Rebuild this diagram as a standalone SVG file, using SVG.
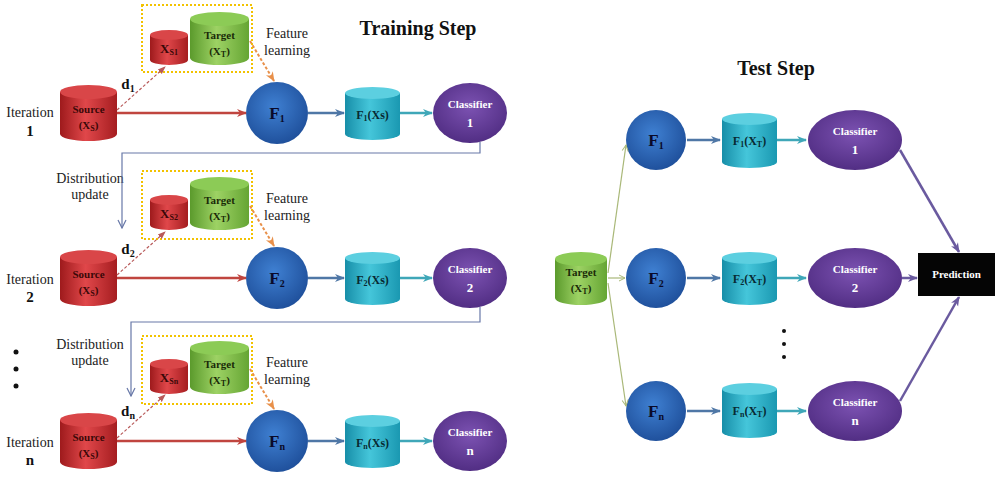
<svg xmlns="http://www.w3.org/2000/svg" width="1000" height="477" viewBox="0 0 1000 477">
<defs>
<linearGradient id="gRed" x1="0" y1="0" x2="1" y2="0"><stop offset="0" stop-color="#9e1a1c"/><stop offset="0.45" stop-color="#e0474a"/><stop offset="1" stop-color="#a51d20"/></linearGradient>
<linearGradient id="gGreen" x1="0" y1="0" x2="1" y2="0"><stop offset="0" stop-color="#5b9a2c"/><stop offset="0.45" stop-color="#9dd264"/><stop offset="1" stop-color="#65a533"/></linearGradient>
<linearGradient id="gTeal" x1="0" y1="0" x2="1" y2="0"><stop offset="0" stop-color="#178ea8"/><stop offset="0.45" stop-color="#45c6da"/><stop offset="1" stop-color="#1a98b1"/></linearGradient>
<radialGradient id="gBlue" cx="0.45" cy="0.4" r="0.65"><stop offset="0" stop-color="#3f80d2"/><stop offset="1" stop-color="#1d4d98"/></radialGradient>
<radialGradient id="gPurple" cx="0.5" cy="0.4" r="0.65"><stop offset="0" stop-color="#7c52b2"/><stop offset="1" stop-color="#4e2b80"/></radialGradient>
<marker id="aRed" markerWidth="10" markerHeight="10" refX="9" refY="5" orient="auto" markerUnits="userSpaceOnUse"><path d="M0,1 L10,5 L0,9 L3,5 Z" fill="#c0453f"/></marker>
<marker id="aBlue" markerWidth="10" markerHeight="10" refX="9" refY="5" orient="auto" markerUnits="userSpaceOnUse"><path d="M0,1 L10,5 L0,9 L3,5 Z" fill="#4f77a6"/></marker>
<marker id="aTeal" markerWidth="10" markerHeight="10" refX="9" refY="5" orient="auto" markerUnits="userSpaceOnUse"><path d="M0,1 L10,5 L0,9 L3,5 Z" fill="#3fa7b8"/></marker>
<marker id="aPurple" markerWidth="10" markerHeight="10" refX="9" refY="5" orient="auto" markerUnits="userSpaceOnUse"><path d="M0,1 L10,5 L0,9 L3,5 Z" fill="#6a5a9f"/></marker>
<marker id="aOrange" markerWidth="10" markerHeight="10" refX="9" refY="5" orient="auto" markerUnits="userSpaceOnUse"><path d="M0,1 L10,5 L0,9 L3,5 Z" fill="#e8904a"/></marker>
<marker id="aD" markerWidth="8" markerHeight="8" refX="7" refY="4" orient="auto" markerUnits="userSpaceOnUse"><path d="M0,1 L8,4 L0,7 Z" fill="#b85a5a"/></marker>
<marker id="aOpen" markerWidth="10" markerHeight="10" refX="9" refY="5" orient="auto" markerUnits="userSpaceOnUse"><path d="M1,1 L9,5 L1,9" fill="none" stroke="#6878a8" stroke-width="1.2"/></marker>
<marker id="aOlive" markerWidth="8" markerHeight="8" refX="7" refY="4" orient="auto" markerUnits="userSpaceOnUse"><path d="M1,1 L7,4 L1,7" fill="none" stroke="#a9b878" stroke-width="1"/></marker>
</defs>
<style>
text{font-family:"Liberation Serif","Times New Roman",serif;}
.lbl{font-size:14px;fill:#222;text-anchor:middle;}
.title{font-size:20px;font-weight:bold;fill:#111;text-anchor:middle;}
.in{font-size:11px;font-weight:bold;text-anchor:middle;}
.xs{font-size:13px;font-weight:bold;text-anchor:middle;}
.src{fill:#3a0808;}
.tgt{fill:#1a2a08;}
.cyl{font-size:12px;font-weight:bold;fill:#082a32;text-anchor:middle;}
.fl{font-size:17px;font-weight:bold;fill:#0a0a28;text-anchor:middle;}
.cls{font-size:11px;font-weight:bold;fill:#fff;text-anchor:middle;}
.num{font-size:13px;font-weight:bold;fill:#fff;text-anchor:middle;}
.bold{font-size:15px;font-weight:bold;fill:#111;text-anchor:middle;}
.sub{font-size:8px;}
.dsub{font-size:10px;}
.fsub{font-size:10px;}
.box{fill:none;stroke:#f2c200;stroke-width:2;stroke-dasharray:2 2;}
.red{stroke:#c0453f;stroke-width:2.5;fill:none;}
.blu{stroke:#4f77a6;stroke-width:2.5;fill:none;}
.tea{stroke:#3fa7b8;stroke-width:2.5;fill:none;}
.pur{stroke:#6a5a9f;stroke-width:2.5;fill:none;}
.fb{stroke:#6878a8;stroke-width:1.2;fill:none;}
.orn{stroke:#e8904a;stroke-width:2;stroke-dasharray:3 2;fill:none;}
.dd{stroke:#b85a5a;stroke-width:1.2;stroke-dasharray:3 2;fill:none;}
.olv{stroke:#a9b878;stroke-width:1.2;fill:none;}
</style>

<text class="title" x="418" y="35">Training Step</text>
<text class="title" x="776" y="75">Test Step</text>

<!-- ===== Row 1 ===== -->
<g id="iter1"><text class="lbl" x="30" y="117">Iteration</text><text class="bold" x="30" y="136">1</text></g>
<g id="source1">
<path d="M60,92 L60,134 A28.5,7 0 0 0 117,134 L117,92 Z" fill="url(#gRed)"/>
<ellipse cx="88.5" cy="92" rx="28.5" ry="7" fill="#d94648"/>
<text class="in src" x="88.5" y="113">Source</text><text class="in src" x="88.5" y="129">(X<tspan class="sub" dy="2">S</tspan><tspan dy="-2">)</tspan></text>
</g>
<g id="box1">
<rect class="box" x="142" y="5" width="110" height="67"/>
<path d="M150,35 L150,60 A19,5 0 0 0 188,60 L188,35 Z" fill="url(#gRed)"/>
<ellipse cx="169" cy="35" rx="19" ry="5" fill="#d94648"/>
<text class="xs src" x="169" y="53">X<tspan class="sub" dy="2">S1</tspan></text>
<path d="M190,19 L190,58 A29.5,7 0 0 0 249,58 L249,19 Z" fill="url(#gGreen)"/>
<ellipse cx="219.5" cy="19" rx="29.5" ry="7" fill="#8ccb56"/>
<text class="in tgt" x="219.5" y="39">Target</text><text class="in tgt" x="219.5" y="55">(X<tspan class="sub" dy="2">T</tspan><tspan dy="-2">)</tspan></text>
</g>
<g id="fl1"><text class="lbl" x="287" y="38">Feature</text><text class="lbl" x="287" y="55">learning</text></g>
<g id="d1"><text class="bold" x="128" y="89">d<tspan class="dsub" dy="3">1</tspan></text></g>
<g id="F1"><circle cx="277" cy="113" r="31" fill="url(#gBlue)"/><text class="fl" x="277" y="119">F<tspan class="fsub" dy="3">1</tspan></text></g>
<g id="F1Xs">
<path d="M345,93 L345,134 A27.5,6 0 0 0 400,134 L400,93 Z" fill="url(#gTeal)"/>
<ellipse cx="372.5" cy="93" rx="27.5" ry="6" fill="#5ccfe0"/>
<text class="cyl" x="372.5" y="119">F<tspan class="sub" dy="2">1</tspan><tspan dy="-2">(Xs)</tspan></text>
</g>
<g id="cls1"><ellipse cx="470" cy="113" rx="37" ry="30" fill="url(#gPurple)"/><text class="cls" x="470" y="108">Classifier</text><text class="num" x="470" y="127">1</text></g>

<!-- ===== Row 2 ===== -->
<g id="iter2"><text class="lbl" x="30" y="284">Iteration</text><text class="bold" x="30" y="302">2</text></g>
<g id="dist2"><text class="lbl" x="90" y="183">Distribution</text><text class="lbl" x="90" y="199">update</text></g>
<g id="source2">
<path d="M60,257 L60,299 A28.5,7 0 0 0 117,299 L117,257 Z" fill="url(#gRed)"/>
<ellipse cx="88.5" cy="257" rx="28.5" ry="7" fill="#d94648"/>
<text class="in src" x="88.5" y="278">Source</text><text class="in src" x="88.5" y="294">(X<tspan class="sub" dy="2">S</tspan><tspan dy="-2">)</tspan></text>
</g>
<g id="box2">
<rect class="box" x="142" y="171" width="110" height="68"/>
<path d="M150,200 L150,225 A19,5 0 0 0 188,225 L188,200 Z" fill="url(#gRed)"/>
<ellipse cx="169" cy="200" rx="19" ry="5" fill="#d94648"/>
<text class="xs src" x="169" y="218">X<tspan class="sub" dy="2">S2</tspan></text>
<path d="M190,184 L190,223 A29.5,7 0 0 0 249,223 L249,184 Z" fill="url(#gGreen)"/>
<ellipse cx="219.5" cy="184" rx="29.5" ry="7" fill="#8ccb56"/>
<text class="in tgt" x="219.5" y="204">Target</text><text class="in tgt" x="219.5" y="220">(X<tspan class="sub" dy="2">T</tspan><tspan dy="-2">)</tspan></text>
</g>
<g id="fl2"><text class="lbl" x="287" y="203">Feature</text><text class="lbl" x="287" y="220">learning</text></g>
<g id="d2"><text class="bold" x="128" y="254">d<tspan class="dsub" dy="3">2</tspan></text></g>
<g id="F2"><circle cx="277" cy="278" r="31" fill="url(#gBlue)"/><text class="fl" x="277" y="284">F<tspan class="fsub" dy="3">2</tspan></text></g>
<g id="F2Xs">
<path d="M345,258 L345,299 A27.5,6 0 0 0 400,299 L400,258 Z" fill="url(#gTeal)"/>
<ellipse cx="372.5" cy="258" rx="27.5" ry="6" fill="#5ccfe0"/>
<text class="cyl" x="372.5" y="284">F<tspan class="sub" dy="2">2</tspan><tspan dy="-2">(Xs)</tspan></text>
</g>
<g id="cls2"><ellipse cx="470" cy="278" rx="37" ry="30" fill="url(#gPurple)"/><text class="cls" x="470" y="273">Classifier</text><text class="num" x="470" y="292">2</text></g>

<!-- ===== Row n ===== -->
<g id="dots1"><circle cx="16" cy="352" r="2.5" fill="#111"/><circle cx="16" cy="369" r="2.5" fill="#111"/><circle cx="16" cy="386" r="2.5" fill="#111"/></g>
<g id="itern"><text class="lbl" x="30" y="447">Iteration</text><text class="bold" x="30" y="465">n</text></g>
<g id="distn"><text class="lbl" x="90" y="349">Distribution</text><text class="lbl" x="90" y="365">update</text></g>
<g id="sourcen">
<path d="M60,420 L60,462 A28.5,7 0 0 0 117,462 L117,420 Z" fill="url(#gRed)"/>
<ellipse cx="88.5" cy="420" rx="28.5" ry="7" fill="#d94648"/>
<text class="in src" x="88.5" y="441">Source</text><text class="in src" x="88.5" y="457">(X<tspan class="sub" dy="2">S</tspan><tspan dy="-2">)</tspan></text>
</g>
<g id="boxn">
<rect class="box" x="142" y="336" width="110" height="68"/>
<path d="M150,364 L150,389 A19,5 0 0 0 188,389 L188,364 Z" fill="url(#gRed)"/>
<ellipse cx="169" cy="364" rx="19" ry="5" fill="#d94648"/>
<text class="xs src" x="169" y="382">X<tspan class="sub" dy="2">Sn</tspan></text>
<path d="M190,348 L190,387 A29.5,7 0 0 0 249,387 L249,348 Z" fill="url(#gGreen)"/>
<ellipse cx="219.5" cy="348" rx="29.5" ry="7" fill="#8ccb56"/>
<text class="in tgt" x="219.5" y="368">Target</text><text class="in tgt" x="219.5" y="384">(X<tspan class="sub" dy="2">T</tspan><tspan dy="-2">)</tspan></text>
</g>
<g id="fln"><text class="lbl" x="287" y="367">Feature</text><text class="lbl" x="287" y="384">learning</text></g>
<g id="dn"><text class="bold" x="128" y="416">d<tspan class="dsub" dy="3">n</tspan></text></g>
<g id="Fn"><circle cx="277" cy="441" r="31" fill="url(#gBlue)"/><text class="fl" x="277" y="447">F<tspan class="fsub" dy="3">n</tspan></text></g>
<g id="FnXs">
<path d="M345,421 L345,462 A27.5,6 0 0 0 400,462 L400,421 Z" fill="url(#gTeal)"/>
<ellipse cx="372.5" cy="421" rx="27.5" ry="6" fill="#5ccfe0"/>
<text class="cyl" x="372.5" y="447">F<tspan class="sub" dy="2">n</tspan><tspan dy="-2">(Xs)</tspan></text>
</g>
<g id="clsn"><ellipse cx="470" cy="441" rx="37" ry="30" fill="url(#gPurple)"/><text class="cls" x="470" y="436">Classifier</text><text class="num" x="470" y="455">n</text></g>

<!-- ===== Test step ===== -->
<g id="testTarget">
<path d="M555,259 L555,298 A26,7 0 0 0 607,298 L607,259 Z" fill="url(#gGreen)"/>
<ellipse cx="581" cy="259" rx="26" ry="7" fill="#8ccb56"/>
<text class="in tgt" x="581" y="276">Target</text><text class="in tgt" x="581" y="292">(X<tspan class="sub" dy="2">T</tspan><tspan dy="-2">)</tspan></text>
</g>
<g id="tF1"><circle cx="656" cy="140" r="30" fill="url(#gBlue)"/><text class="fl" x="656" y="146">F<tspan class="fsub" dy="3">1</tspan></text></g>
<g id="tF2"><circle cx="656" cy="278" r="30" fill="url(#gBlue)"/><text class="fl" x="656" y="284">F<tspan class="fsub" dy="3">2</tspan></text></g>
<g id="tFn"><circle cx="656" cy="411" r="30" fill="url(#gBlue)"/><text class="fl" x="656" y="417">F<tspan class="fsub" dy="3">n</tspan></text></g>
<g id="tC1">
<path d="M722,119 L722,162 A27.5,6 0 0 0 777,162 L777,119 Z" fill="url(#gTeal)"/>
<ellipse cx="749.5" cy="119" rx="27.5" ry="6" fill="#5ccfe0"/>
<text class="cyl" x="749.5" y="145">F<tspan class="sub" dy="2">1</tspan><tspan dy="-2">(X</tspan><tspan class="sub" dy="2">T</tspan><tspan dy="-2">)</tspan></text>
</g>
<g id="tC2">
<path d="M722,258 L722,299 A27.5,6 0 0 0 777,299 L777,258 Z" fill="url(#gTeal)"/>
<ellipse cx="749.5" cy="258" rx="27.5" ry="6" fill="#5ccfe0"/>
<text class="cyl" x="749.5" y="283">F<tspan class="sub" dy="2">2</tspan><tspan dy="-2">(X</tspan><tspan class="sub" dy="2">T</tspan><tspan dy="-2">)</tspan></text>
</g>
<g id="tCn">
<path d="M722,389 L722,432 A27.5,6 0 0 0 777,432 L777,389 Z" fill="url(#gTeal)"/>
<ellipse cx="749.5" cy="389" rx="27.5" ry="6" fill="#5ccfe0"/>
<text class="cyl" x="749.5" y="415">F<tspan class="sub" dy="2">n</tspan><tspan dy="-2">(X</tspan><tspan class="sub" dy="2">T</tspan><tspan dy="-2">)</tspan></text>
</g>
<g id="tCls1"><ellipse cx="855" cy="140" rx="47" ry="30" fill="url(#gPurple)"/><text class="cls" x="855" y="135">Classifier</text><text class="num" x="855" y="154">1</text></g>
<g id="tCls2"><ellipse cx="855" cy="278" rx="47" ry="30" fill="url(#gPurple)"/><text class="cls" x="855" y="273">Classifier</text><text class="num" x="855" y="292">2</text></g>
<g id="tClsn"><ellipse cx="855" cy="411" rx="47" ry="30" fill="url(#gPurple)"/><text class="cls" x="855" y="406">Classifier</text><text class="num" x="855" y="425">n</text></g>
<g id="dots2"><circle cx="784" cy="331" r="2" fill="#111"/><circle cx="784" cy="344" r="2" fill="#111"/><circle cx="784" cy="357" r="2" fill="#111"/></g>
<g id="prediction"><rect x="918" y="253" width="77" height="43" fill="#050505"/><text class="cls" x="956.5" y="278">Prediction</text></g>

<!-- ===== Connectors ===== -->
<g id="connectors">
<path class="red" d="M117,113 L246,113" marker-end="url(#aRed)"/>
<path class="red" d="M117,278 L246,278" marker-end="url(#aRed)"/>
<path class="red" d="M117,441 L246,441" marker-end="url(#aRed)"/>
<path class="blu" d="M308,113 L344,113" marker-end="url(#aBlue)"/>
<path class="blu" d="M308,278 L344,278" marker-end="url(#aBlue)"/>
<path class="blu" d="M308,441 L344,441" marker-end="url(#aBlue)"/>
<path class="tea" d="M400,113 L432,113" marker-end="url(#aTeal)"/>
<path class="tea" d="M400,278 L432,278" marker-end="url(#aTeal)"/>
<path class="tea" d="M400,441 L432,441" marker-end="url(#aTeal)"/>
<path class="orn" d="M250,41 L274,81" marker-end="url(#aOrange)"/>
<path class="orn" d="M250,206 L274,246" marker-end="url(#aOrange)"/>
<path class="orn" d="M250,369 L274,409" marker-end="url(#aOrange)"/>
<path class="dd" d="M117,110 L165,67" marker-end="url(#aD)"/>
<path class="dd" d="M117,275 L165,232" marker-end="url(#aD)"/>
<path class="dd" d="M117,438 L165,395" marker-end="url(#aD)"/>
<path class="fb" d="M480,142 L480,153 L122,153 L122,228" marker-end="url(#aOpen)"/>
<path class="fb" d="M480,307 L480,322 L131,322 L131,396" marker-end="url(#aOpen)"/>
<path class="olv" d="M608,273 L626,145" marker-end="url(#aOlive)"/>
<path class="olv" d="M608,278 L625,278" marker-end="url(#aOlive)"/>
<path class="olv" d="M608,283 L626,406" marker-end="url(#aOlive)"/>
<path class="blu" d="M687,140 L720,140" marker-end="url(#aBlue)"/>
<path class="blu" d="M687,278 L720,278" marker-end="url(#aBlue)"/>
<path class="blu" d="M687,411 L720,411" marker-end="url(#aBlue)"/>
<path class="tea" d="M777,140 L806,140" marker-end="url(#aTeal)"/>
<path class="tea" d="M777,278 L806,278" marker-end="url(#aTeal)"/>
<path class="tea" d="M777,411 L806,411" marker-end="url(#aTeal)"/>
<path class="pur" d="M900,150 L959,252" marker-end="url(#aPurple)"/>
<path class="pur" d="M902,278 L917,278" marker-end="url(#aPurple)"/>
<path class="pur" d="M900,401 L959,297" marker-end="url(#aPurple)"/>
</g>
</svg>
